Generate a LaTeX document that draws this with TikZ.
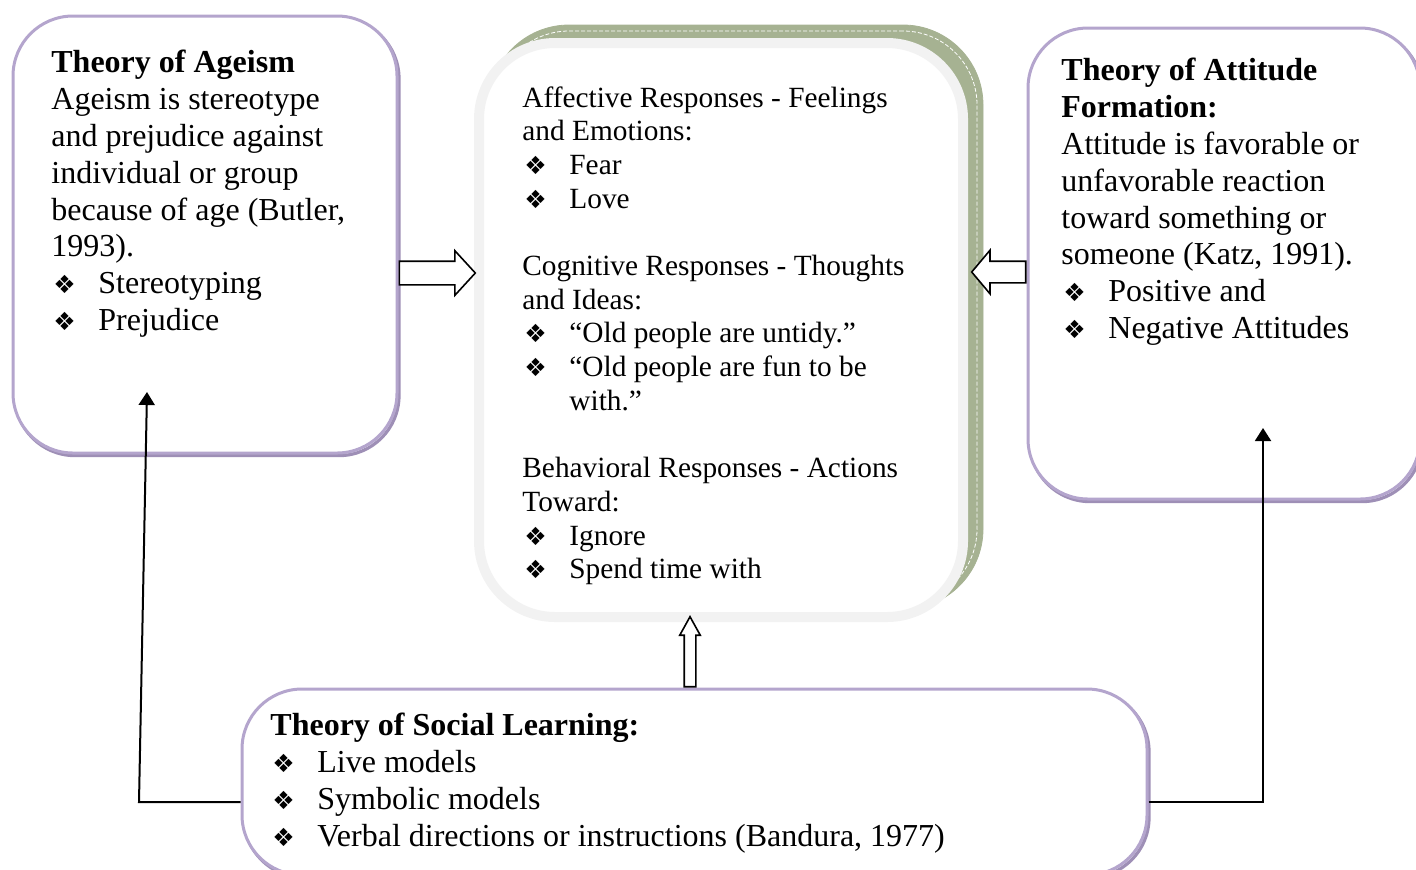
\documentclass[tikz,border=0pt]{standalone}
\usepackage{fontspec}
\setmainfont{Liberation Serif}
\newfontfamily\dingfont{DejaVu Sans}
\usetikzlibrary{shapes.arrows,arrows.meta}

\definecolor{lav}{RGB}{180,165,205}
\definecolor{lavdark}{RGB}{158,143,182}
\definecolor{sage}{RGB}{166,178,146}
\definecolor{ringgray}{RGB}{242,242,242}

\newcommand\bul{{\dingfont\fontsize{12.5}{12}\selectfont ❖}}
\newcommand\itm[1]{\makebox[23.5pt][l]{\hspace{1pt}\bul}#1}

\tikzset{
  theorybox/.style={draw=lav, line width=1.5pt, fill=white, rounded corners=30pt,
    preaction={draw=lavdark, line width=1.6pt, transform canvas={shift={(1pt,-1.3pt)}}}},
  sidetext/.style={anchor=north west, inner sep=0pt, align=left, font=\fontsize{16}{18.4}\selectfont},
  midtext/.style={anchor=north west, inner sep=0pt, align=left, font=\fontsize{14.67}{16.85}\selectfont},
  hollow/.style={single arrow, draw=black, fill=white, line width=0.8pt, inner sep=0pt, minimum width=0pt, anchor=tail},
  link/.style={draw=black, line width=1pt, -{Triangle[length=6.5pt,width=8pt]}}
}

\begin{document}
\begin{tikzpicture}[x=0.5pt, y=-0.5pt]
  \useasboundingbox (0,0) rectangle (1416,869);

  % the three theory boxes
  \node[theorybox, minimum width=192pt, minimum height=218.5pt] (ageism) at (205,234.5) {};
  \node[theorybox, minimum width=196pt, minimum height=235.5pt] (attitude) at (1224,263.5) {};
  \node[theorybox, minimum width=452.5pt, minimum height=93pt] (social) at (694.5,782) {};

  % responses box with its green back
  \node[draw=sage, fill=sage, rounded corners=40pt, minimum width=247pt, minimum height=292pt] (respback) at (736,317) {};
  \node[draw=white, line width=0.4pt, dash pattern=on 2pt off 1pt, rounded corners=37pt, minimum width=241pt, minimum height=286pt] (respdash) at (736,317) {};
  \node[draw=ringgray, fill=white, line width=5pt, rounded corners=38pt, minimum width=242pt, minimum height=287pt] (responses) at (721,330) {};

  \node[sidetext] (ageismtxt) at (51,50) {\textbf{Theory of Ageism}\\
    Ageism is stereotype\\
    and prejudice against\\
    individual or group\\
    because of age (Butler,\\
    1993).\\
    \itm{Stereotyping}\\
    \itm{Prejudice}};

  \node[sidetext] (attitudetxt) at (1061,58) {\textbf{Theory of Attitude}\\
    \textbf{Formation:}\\
    Attitude is favorable or\\
    unfavorable reaction\\
    toward something or\\
    someone (Katz, 1991).\\
    \itm{Positive and}\\
    \itm{Negative Attitudes}};

  \node[midtext] (responsestxt) at (522,86) {Affective Responses - Feelings\\
    and Emotions:\\
    \itm{Fear}\\
    \itm{Love}\\[16.85pt]
    Cognitive Responses - Thoughts\\
    and Ideas:\\
    \itm{“Old people are untidy.”}\\
    \itm{“Old people are fun to be}\\
    \hspace*{23.5pt}with.”\\[16.85pt]
    Behavioral Responses - Actions\\
    Toward:\\
    \itm{Ignore}\\
    \itm{Spend time with}};

  \node[sidetext] (socialtxt) at (270,713) {\textbf{Theory of Social Learning:}\\
    \itm{Live models}\\
    \itm{Symbolic models}\\
    \itm{Verbal directions or instructions (Bandura, 1977)}};

  % hollow arrows into the responses box
  \node[hollow, minimum height=38pt, inner ysep=5.5pt, single arrow head extend=5.25pt, single arrow tip angle=95] (fromageism) at (ageism.east |- 0,273) {};
  \node[hollow, rotate=180, minimum height=27pt, inner ysep=5pt, single arrow head extend=5.5pt, single arrow tip angle=100] (fromattitude) at (attitude.west |- 0,272) {};
  \node[hollow, rotate=90, minimum height=35pt, inner ysep=2.5pt, single arrow head extend=2.25pt, single arrow tip angle=58] (fromsocial) at (social.north -| 690,0) {};

  % links from social learning
  \coordinate (ageismin) at (147,392);
  \coordinate (attitudein) at (1263,428);
  \draw[link] ([yshift=-10pt]social.west) -- (139,802) -- (ageismin);
  \draw[link] ([yshift=-10pt]social.east) -| (attitudein);
\end{tikzpicture}
\end{document}
